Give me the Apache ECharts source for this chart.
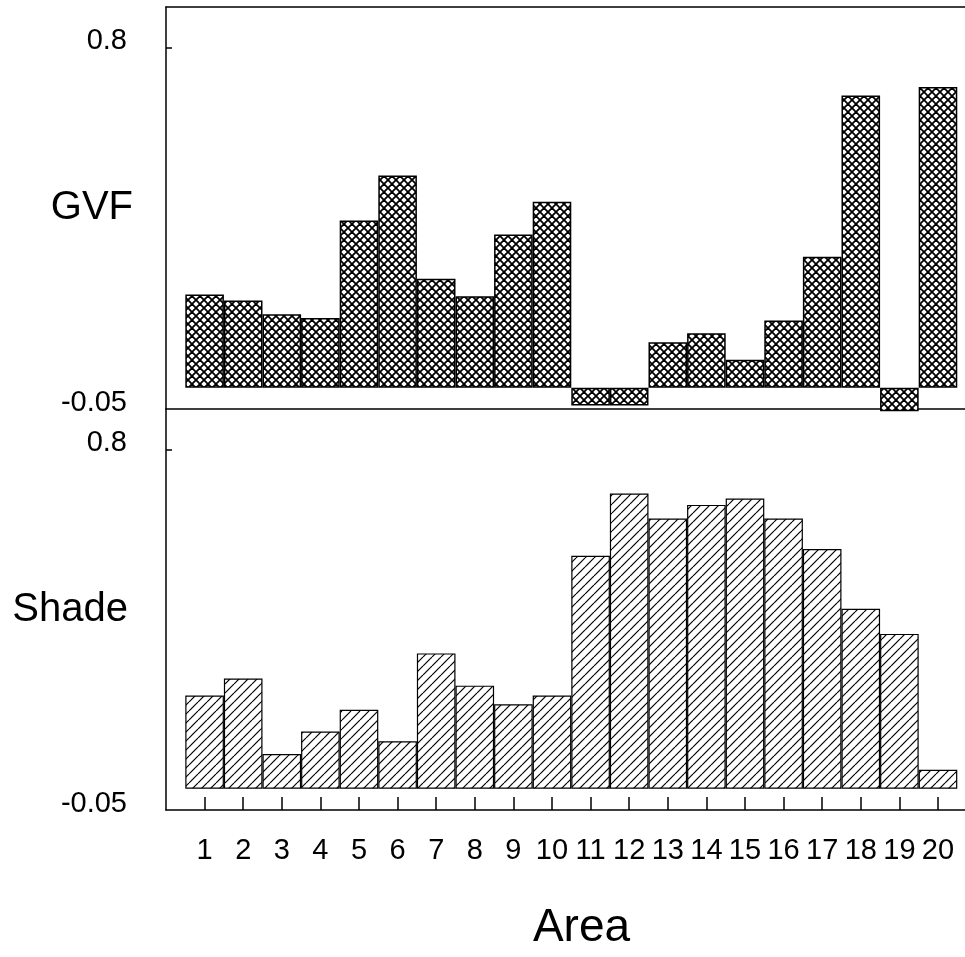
<!DOCTYPE html>
<html>
<head>
<meta charset="utf-8">
<script src="https://cdn.jsdelivr.net/npm/echarts@6/dist/echarts.min.js"></script>
<style>
  html, body { margin: 0; padding: 0; background: #fff; }
  #chart { width: 965px; height: 957px; }
</style>
</head>
<body>
<div id="chart"></div>
<script>
// areas on the x axis
const areas = [1, 2, 3, 4, 5, 6, 7, 8, 9, 10, 11, 12, 13, 14, 15, 16, 17, 18, 19, 20]
// upper panel
const gvfValues = [0.219, 0.205, 0.173, 0.164, 0.393, 0.499, 0.256, 0.215, 0.36, 0.437,
  -0.042, -0.042, 0.107, 0.128, 0.066, 0.158, 0.308, 0.687, -0.055, 0.707]
// lower panel
const shadeValues = [0.22, 0.26, 0.082, 0.135, 0.186, 0.112, 0.319, 0.243, 0.199, 0.22,
  0.549, 0.696, 0.637, 0.669, 0.684, 0.637, 0.565, 0.424, 0.365, 0.045]
const yTickLabels = [-0.05, 0.8]
const yMarkTicks = [0.8]

// hatch fills, drawn on a small tile and repeated
function makePattern(kind) {
  const s = kind === 'cross' ? 8 : 9
  const c = document.createElement('canvas')
  c.width = s
  c.height = s
  const ctx = c.getContext('2d')
  ctx.fillStyle = '#fff'
  ctx.fillRect(0, 0, s, s)
  ctx.strokeStyle = '#000'
  ctx.lineWidth = kind === 'cross' ? 1.8 : 1.2
  const seg = (x1, y1, x2, y2) => {
    ctx.beginPath()
    ctx.moveTo(x1, y1)
    ctx.lineTo(x2, y2)
    ctx.stroke()
  }
  for (const o of [-s, 0, s]) {
    seg(o, s, o + s, 0)
    if (kind === 'cross') seg(o, 0, o + s, s)
  }
  return c
}

const black = { color: '#000', width: 1.5 }
const xRange = { type: 'value', min: 0, max: 20.7, interval: 1, splitLine: { show: false } }
const areaLabel = v => (v >= 1 && v <= 20 && Number.isInteger(v)) ? String(v) : ''

function yAxisFor(grid, name, gap) {
  return {
    gridIndex: grid,
    type: 'value',
    min: -0.05,
    max: 0.895,
    name: name,
    nameLocation: 'middle',
    nameRotate: 0,
    nameGap: gap,
    nameMoveOverlap: false,
    nameTextStyle: { fontSize: 40, color: '#000' },
    axisLine: { show: true, lineStyle: black },
    axisTick: { show: true, inside: true, length: 6, customValues: yMarkTicks, lineStyle: black },
    axisLabel: {
      customValues: yTickLabels, fontSize: 29, color: '#000', margin: 39,
      verticalAlign: 'bottom', lineHeight: 13
    },
    splitLine: { show: false }
  }
}

const chart = echarts.init(document.getElementById('chart'))
chart.setOption({
  animation: false,
  textStyle: { fontFamily: 'Liberation Sans, Arial, sans-serif' },
  grid: [
    { left: 166, right: 0, top: 7, height: 402, containLabel: false, outerBoundsMode: 'none' },
    { left: 166, right: 0, top: 409, height: 401, containLabel: false, outerBoundsMode: 'none' }
  ],
  xAxis: [
    Object.assign({}, xRange, {
      gridIndex: 0, position: 'bottom',
      axisLine: { onZero: false, lineStyle: black },
      axisTick: { show: false }, axisLabel: { show: false }
    }),
    Object.assign({}, xRange, {
      gridIndex: 0, position: 'top',
      axisLine: { onZero: false, lineStyle: black },
      axisTick: { show: false }, axisLabel: { show: false }
    }),
    Object.assign({}, xRange, {
      gridIndex: 1, position: 'bottom',
      name: 'Area', nameLocation: 'middle', nameGap: 95, nameMoveOverlap: false,
      nameTextStyle: { fontSize: 46, color: '#000', padding: [0, 0, 0, 32] },
      axisLine: { onZero: false, lineStyle: black },
      axisTick: { inside: true, length: 13, customValues: areas, lineStyle: black },
      axisLabel: { customValues: areas, formatter: areaLabel, fontSize: 29, color: '#000', margin: 26 }
    })
  ],
  yAxis: [
    yAxisFor(0, 'GVF', 33),
    yAxisFor(1, 'Shade', 38)
  ],
  series: [
    {
      name: 'GVF', type: 'bar', xAxisIndex: 0, yAxisIndex: 0,
      data: areas.map((a, i) => [a, gvfValues[i]]),
      barWidth: 38.6, clip: false,
      itemStyle: { color: { image: makePattern('cross'), repeat: 'repeat' }, borderColor: '#000', borderWidth: 1.5 }
    },
    {
      name: 'Shade', type: 'bar', xAxisIndex: 2, yAxisIndex: 1,
      data: areas.map((a, i) => [a, shadeValues[i]]),
      barWidth: 38.6, clip: false,
      itemStyle: { color: { image: makePattern('hatch'), repeat: 'repeat' }, borderColor: '#000', borderWidth: 1.2 }
    }
  ]
})
</script>
</body>
</html>
